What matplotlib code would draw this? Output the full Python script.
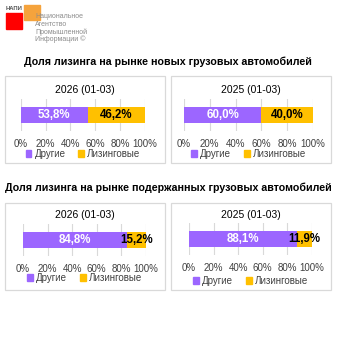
import matplotlib.pyplot as plt
from matplotlib.patches import Rectangle

plt.rcParams['font.family'] = ['Liberation Sans', 'DejaVu Sans']

periods = ['2026 (01-03)', '2025 (01-03)']
new_other = [53.8, 60.0]
new_leasing = [46.2, 40.0]
used_other = [84.8, 88.1]
used_leasing = [15.2, 11.9]
series_names = ['Другие', 'Лизинговые']
ticks = [0, 20, 40, 60, 80, 100]
tick_labels = ['0%', '20%', '40%', '60%', '80%', '100%']

purple = '#9C66FF'
yellow = '#FFC000'

W = H = 338
fig = plt.figure(figsize=(3.38, 3.38), dpi=100)


def fx(x):
    return x / W


def fy(y):
    return 1 - y / H


def panel(box, ax_x, ax_y, title_y, legend_y, title, other, leasing):
    # frame of the panel
    x0, y0, x1, y1 = box
    fig.patches.append(Rectangle((fx(x0), fy(y1)), fx(x1 - x0), (y1 - y0) / H,
                                 transform=fig.transFigure, fill=False,
                                 edgecolor='#D9D9D9', linewidth=0.9))
    ax = fig.add_axes([fx(ax_x[0]), fy(ax_y[1]), fx(ax_x[1] - ax_x[0]),
                       (ax_y[1] - ax_y[0]) / H])
    ax.barh([0], [other], height=0.5, color=purple, zorder=2)
    ax.barh([0], [leasing], left=[other], height=0.5, color=yellow, zorder=2)
    ax.text(other / 2, 0, f'{other:.1f}%'.replace('.', ','), ha='center',
            va='center', color='white', fontsize=8.3, fontweight='bold', zorder=3)
    ax.text(other + leasing / 2, 0, f'{leasing:.1f}%'.replace('.', ','),
            ha='center', va='center', color='black', fontsize=8.3,
            fontweight='bold', zorder=3)
    ax.set_xlim(0, 100)
    ax.set_ylim(-0.5, 0.5)
    ax.set_xticks(ticks)
    ax.set_xticklabels(tick_labels, fontsize=7, color='#404040')
    ax.set_yticks([])
    ax.tick_params(axis='x', length=0, pad=6)
    ax.grid(axis='x', color='#D9D9D9', linewidth=0.8, zorder=0)
    for s in ax.spines.values():
        s.set_visible(False)
    fig.text(fx((x0 + x1) / 2), fy(title_y), title, ha='center', va='center',
             fontsize=7.5, color='black')
    h1 = Rectangle((0, 0), 1, 1, color=purple)
    h2 = Rectangle((0, 0), 1, 1, color=yellow)
    fig.legend([h1, h2], series_names, loc='center',
               bbox_to_anchor=(fx((ax_x[0] + ax_x[1]) / 2), fy(legend_y)),
               ncol=2, frameon=False, fontsize=7, handlelength=0.6,
               handleheight=0.6, handletextpad=0.3, columnspacing=1.3,
               borderpad=0, labelcolor='#404040')


# section titles
fig.text(fx(168), fy(62), 'Доля лизинга на рынке новых грузовых автомобилей',
         ha='center', va='center', fontsize=7.7, fontweight='bold')
fig.text(fx(168), fy(188),
         'Доля лизинга на рынке подержанных грузовых автомобилей',
         ha='center', va='center', fontsize=7.7, fontweight='bold')

panel((5, 76, 165, 163), (20.7, 145), (99, 131), 90, 154, periods[0],
      new_other[0], new_leasing[0])
panel((171, 76, 331, 163), (184, 313), (99, 131), 90, 154, periods[1],
      new_other[1], new_leasing[1])
panel((5, 203, 165, 290), (23, 146), (224, 256), 215, 278, periods[0],
      used_other[0], used_leasing[0])
panel((171, 203, 331, 290), (189, 312), (223, 255), 215, 281, periods[1],
      used_other[1], used_leasing[1])

# logo
fig.patches.append(Rectangle((fx(24), fy(20)), fx(16), 15 / H,
                             transform=fig.transFigure, color='#F5A33C'))
fig.patches.append(Rectangle((fx(6), fy(29)), fx(16), 16 / H,
                             transform=fig.transFigure, color='#FF0000'))
fig.text(fx(6), fy(8), 'НАПИ', fontsize=4.2, color='#555555', va='center',
         fontweight='bold')
logo_lines = ['Национальное', 'Агентство', 'Промышленной', 'Информации ©']
for i, line in enumerate(logo_lines):
    fig.text(fx(35), fy(17 + 7.5 * i), line, fontsize=5, color='#8C8C8C',
             va='center')

fig.savefig('out.png', dpi=100)
